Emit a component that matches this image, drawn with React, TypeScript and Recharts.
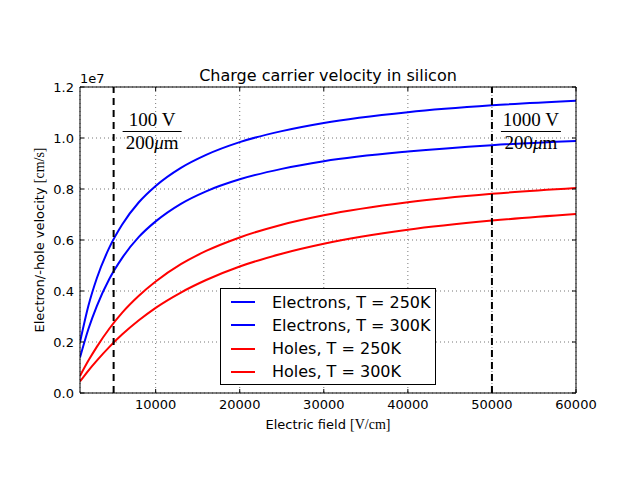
import React from 'react';
import { LineChart, Line, XAxis, YAxis, CartesianGrid, ReferenceLine, Legend } from 'recharts';

// electric field samples [V/cm]
const fieldE = [1000, 2000, 3000, 4500, 6000, 8000, 10000, 13000, 16000, 20000, 25000, 30000, 40000, 50000, 60000];
// drift velocities in units of 1e7 cm/s
const elec250 = [0.199, 0.342, 0.450, 0.571, 0.660, 0.748, 0.812, 0.883, 0.934, 0.984, 1.027, 1.059, 1.101, 1.128, 1.146];
const elec300 = [0.139, 0.251, 0.341, 0.448, 0.529, 0.612, 0.673, 0.742, 0.791, 0.838, 0.879, 0.909, 0.947, 0.972, 0.988];
const hole250 = [0.067, 0.127, 0.181, 0.253, 0.314, 0.381, 0.437, 0.505, 0.557, 0.610, 0.660, 0.697, 0.748, 0.781, 0.804];
const hole300 = [0.045, 0.088, 0.127, 0.181, 0.229, 0.285, 0.334, 0.394, 0.443, 0.496, 0.546, 0.585, 0.640, 0.676, 0.702];

const xTicks = [10000, 20000, 30000, 40000, 50000, 60000];
const yTicks = [0, 0.2, 0.4, 0.6, 0.8, 1.0, 1.2];

const data = fieldE.map((E, i) => ({
  E,
  e250: elec250[i],
  e300: elec300[i],
  h250: hole250[i],
  h300: hole300[i],
}));

const SANS = 'DejaVu Sans';
const SERIF = 'Liberation Serif';
const AX = 30; // reserved axis thickness

const BottomTick = (props: any) => {
  const { x, y, payload } = props;
  return (
    <g>
      <line x1={x} x2={x} y1={y} y2={y - 4} stroke="#000" />
      <text x={x} y={y + 16} textAnchor="middle" fontSize={13} fontFamily={SANS} fill="#000">
        {payload.value}
      </text>
    </g>
  );
};

const LeftTick = (props: any) => {
  const { x, y, payload } = props;
  return (
    <g>
      <line x1={x} x2={x + 4} y1={y} y2={y} stroke="#000" />
      <text x={x - 6} y={y + 5} textAnchor="end" fontSize={13} fontFamily={SANS} fill="#000">
        {Number(payload.value).toFixed(1)}
      </text>
    </g>
  );
};

const TopTick = (props: any) => {
  const { x, y } = props;
  return <line x1={x} x2={x} y1={y} y2={y + 4} stroke="#000" />;
};

const RightTick = (props: any) => {
  const { x, y } = props;
  return <line x1={x} x2={x - 4} y1={y} y2={y} stroke="#000" />;
};

const XLabel = (props: any) => {
  const vb = props.viewBox;
  return (
    <text x={vb.x + vb.width / 2} y={vb.y + 36} textAnchor="middle" fontSize={13} fill="#000">
      <tspan fontFamily={SANS}>Electric field </tspan>
      <tspan fontFamily={SERIF} fontSize={14}>[V/cm]</tspan>
    </text>
  );
};

const YLabel = (props: any) => {
  const vb = props.viewBox;
  const cx = vb.x + vb.width - 36;
  const cy = vb.y + vb.height / 2;
  return (
    <text x={cx} y={cy} transform={`rotate(-90, ${cx}, ${cy})`} textAnchor="middle" fontSize={13} fill="#000">
      <tspan fontFamily={SANS}>Electron/-hole velocity </tspan>
      <tspan fontFamily={SERIF} fontSize={14}>[cm/s]</tspan>
    </text>
  );
};

// title plus the axis offset text, hung off the top axis
const TopLabel = (props: any) => {
  const vb = props.viewBox;
  const base = vb.y + vb.height;
  return (
    <g>
      <text x={vb.x + vb.width / 2} y={base - 6} textAnchor="middle" fontSize={16} fontFamily={SANS} fill="#000">
        Charge carrier velocity in silicon
      </text>
      <text x={vb.x} y={base - 4} fontSize={13} fontFamily={SANS} fill="#000">
        1e7
      </text>
    </g>
  );
};

const Frac = ({ viewBox, num, barW }: any) => {
  const x0 = viewBox.x + 9;
  const top = viewBox.y;
  const cx = x0 + barW / 2;
  return (
    <g fontFamily={SERIF} fontSize={19} fill="#000">
      <text x={cx} y={top + 39} textAnchor="middle">{num}</text>
      <line x1={x0} x2={x0 + barW} y1={top + 44.5} y2={top + 44.5} stroke="#000" strokeWidth={1} />
      <text x={cx} y={top + 62} textAnchor="middle">
        200<tspan fontStyle="italic">μ</tspan>m
      </text>
    </g>
  );
};

const LegendBox = (props: any) => {
  const items = props.payload || [];
  return (
    <div
      style={{
        width: 214,
        height: 95,
        border: '1px solid #000',
        background: '#fff',
        fontFamily: SANS,
        fontSize: 16,
        position: 'relative',
      }}
    >
      {items.map((it: any, i: number) => (
        <div key={i} style={{ position: 'absolute', left: 0, top: 2 + i * 23.3, height: 22, display: 'flex', alignItems: 'center' }}>
          <div style={{ marginLeft: 10, width: 24, height: 2, background: it.color }} />
          <span style={{ marginLeft: 17, color: '#000', whiteSpace: 'nowrap' }}>{it.value}</span>
        </div>
      ))}
    </div>
  );
};

export default function App() {
  return (
    <div style={{ position: 'absolute', left: 0, top: 0, fontFamily: SANS, background: '#fff' }}>
      <LineChart width={640} height={480} data={data} margin={{ top: 87 - AX, right: 64 - AX, bottom: 87 - AX, left: 80 - AX }}>
        <CartesianGrid stroke="#777" strokeWidth={1} strokeDasharray="1 3" />
        <XAxis
          dataKey="E"
          type="number"
          domain={[1000, 60000]}
          ticks={xTicks}
          allowDataOverflow
          height={AX}
          tickSize={0}
          tickMargin={0}
          tickLine={false}
          axisLine={{ stroke: '#000' }}
          tick={<BottomTick />}
          label={(p: any) => <XLabel {...p} />}
        />
        <XAxis
          xAxisId="top"
          orientation="top"
          dataKey="E"
          type="number"
          domain={[1000, 60000]}
          ticks={xTicks}
          allowDataOverflow
          height={AX}
          tickSize={0}
          tickMargin={0}
          tickLine={false}
          axisLine={{ stroke: '#000' }}
          tick={<TopTick />}
          label={(p: any) => <TopLabel {...p} />}
        />
        <YAxis
          type="number"
          domain={[0, 1.2]}
          ticks={yTicks}
          allowDataOverflow
          width={AX}
          tickSize={0}
          tickMargin={0}
          tickLine={false}
          axisLine={{ stroke: '#000' }}
          tick={<LeftTick />}
          label={(p: any) => <YLabel {...p} />}
        />
        <YAxis
          yAxisId="right"
          orientation="right"
          type="number"
          domain={[0, 1.2]}
          ticks={yTicks}
          allowDataOverflow
          width={AX}
          tickSize={0}
          tickMargin={0}
          tickLine={false}
          axisLine={{ stroke: '#000' }}
          tick={<RightTick />}
        />
        <Line type="monotone" dataKey="e250" name="Electrons, T = 250K" stroke="#0000ff" strokeWidth={2} dot={false} isAnimationActive={false} />
        <Line type="monotone" dataKey="e300" name="Electrons, T = 300K" stroke="#0000ff" strokeWidth={2} dot={false} isAnimationActive={false} />
        <Line type="monotone" dataKey="h250" name="Holes, T = 250K" stroke="#ff0000" strokeWidth={2} dot={false} isAnimationActive={false} />
        <Line type="monotone" dataKey="h300" name="Holes, T = 300K" stroke="#ff0000" strokeWidth={2} dot={false} isAnimationActive={false} />
        <ReferenceLine
          x={5000}
          stroke="#000"
          strokeWidth={2}
          strokeDasharray="7 5"
          label={(p: any) => <Frac {...p} num="100 V" barW={59} />}
        />
        <ReferenceLine
          x={50000}
          stroke="#000"
          strokeWidth={2}
          strokeDasharray="7 5"
          label={(p: any) => <Frac {...p} num="1000 V" barW={60} />}
        />
        <Legend
          layout="horizontal"
          verticalAlign="middle"
          align="center"
          content={<LegendBox />}
          wrapperStyle={{ left: 220, top: 288, width: 216, height: 97 }}
        />
      </LineChart>
    </div>
  );
}
